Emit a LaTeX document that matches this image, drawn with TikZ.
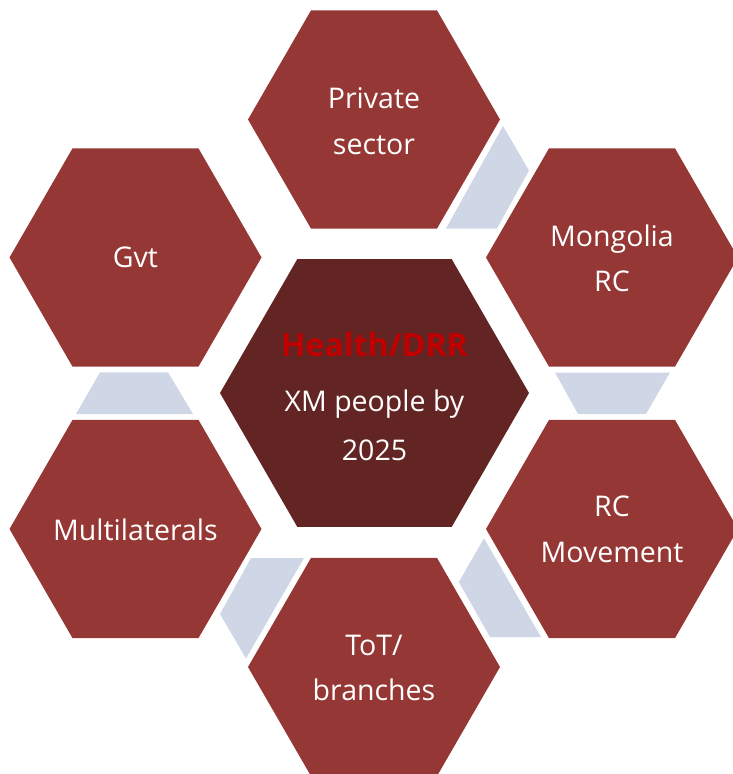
\documentclass[tikz,border=0pt]{standalone}
\usepackage{fontspec}
\setmainfont{Open Sans}
\definecolor{outerred}{HTML}{953735}
\definecolor{innerred}{HTML}{632523}
\definecolor{linkblue}{HTML}{CFD7E6}
\definecolor{titlered}{HTML}{C00000}
\newcommand\hexa[4]{\fill[#4, shift={(#1,#2)}] (0:#3) -- (60:#3) -- (120:#3) -- (180:#3) -- (240:#3) -- (300:#3) -- cycle;}
\tikzset{
  lbl/.style={anchor=base, text=white, inner sep=0pt, font=\fontsize{28.5}{34}\selectfont},
  ttl/.style={anchor=base, text=titlered, inner sep=0pt, font=\fontsize{32}{38}\selectfont\bfseries},
  link/.style={fill=linkblue}
}
\begin{document}
\begin{tikzpicture}[x=1pt,y=-1pt]
\useasboundingbox (0,0) rectangle (732,774);
% link shapes
\fill[link] (503,126) -- (529,170.5) -- (497,228.5) -- (446,228.5) -- cycle;
\fill[link] (555,372.5) -- (670,372.5) -- (646,414) -- (578,414) -- cycle;
\fill[link] (484,538.3) -- (458.8,582) -- (490,637) -- (541,637) -- cycle;
\fill[link] (251,558) -- (304,558) -- (246,658.5) -- (220,614) -- cycle;
\fill[link] (100,372.3) -- (168,372.3) -- (193,414) -- (76,414) -- cycle;
% hexagons
\hexa{374}{119.5}{126}{outerred}
\hexa{612}{257.5}{126}{outerred}
\hexa{612}{529}{126}{outerred}
\hexa{374}{667}{126}{outerred}
\hexa{135.5}{529}{126}{outerred}
\hexa{135.5}{257.5}{126}{outerred}
\hexa{374.5}{393}{154.5}{innerred}
% labels
\node[lbl] (priv1) at (374,108.3) {Private};
\node[lbl] (priv2) at (374,154) {sector};
\node[lbl] (mon1) at (612,246.7) {Mongolia};
\node[lbl] (mon2) at (612,291.7) {RC};
\node[lbl] (mov1) at (612,516.7) {RC};
\node[lbl] (mov2) at (612,562.7) {Movement};
\node[lbl] (tot1) at (374,655) {ToT/};
\node[lbl] (tot2) at (374,700) {branches};
\node[lbl] (mul) at (135.5,540) {Multilaterals};
\node[lbl] (gvt) at (135.5,267.7) {Gvt};
\node[ttl] (hd) at (374.5,356.7) {Health/DRR};
\node[lbl] (xm) at (374.5,411.7) {XM people by};
\node[lbl] (yr) at (374.5,460.7) {2025};
\end{tikzpicture}
\end{document}
